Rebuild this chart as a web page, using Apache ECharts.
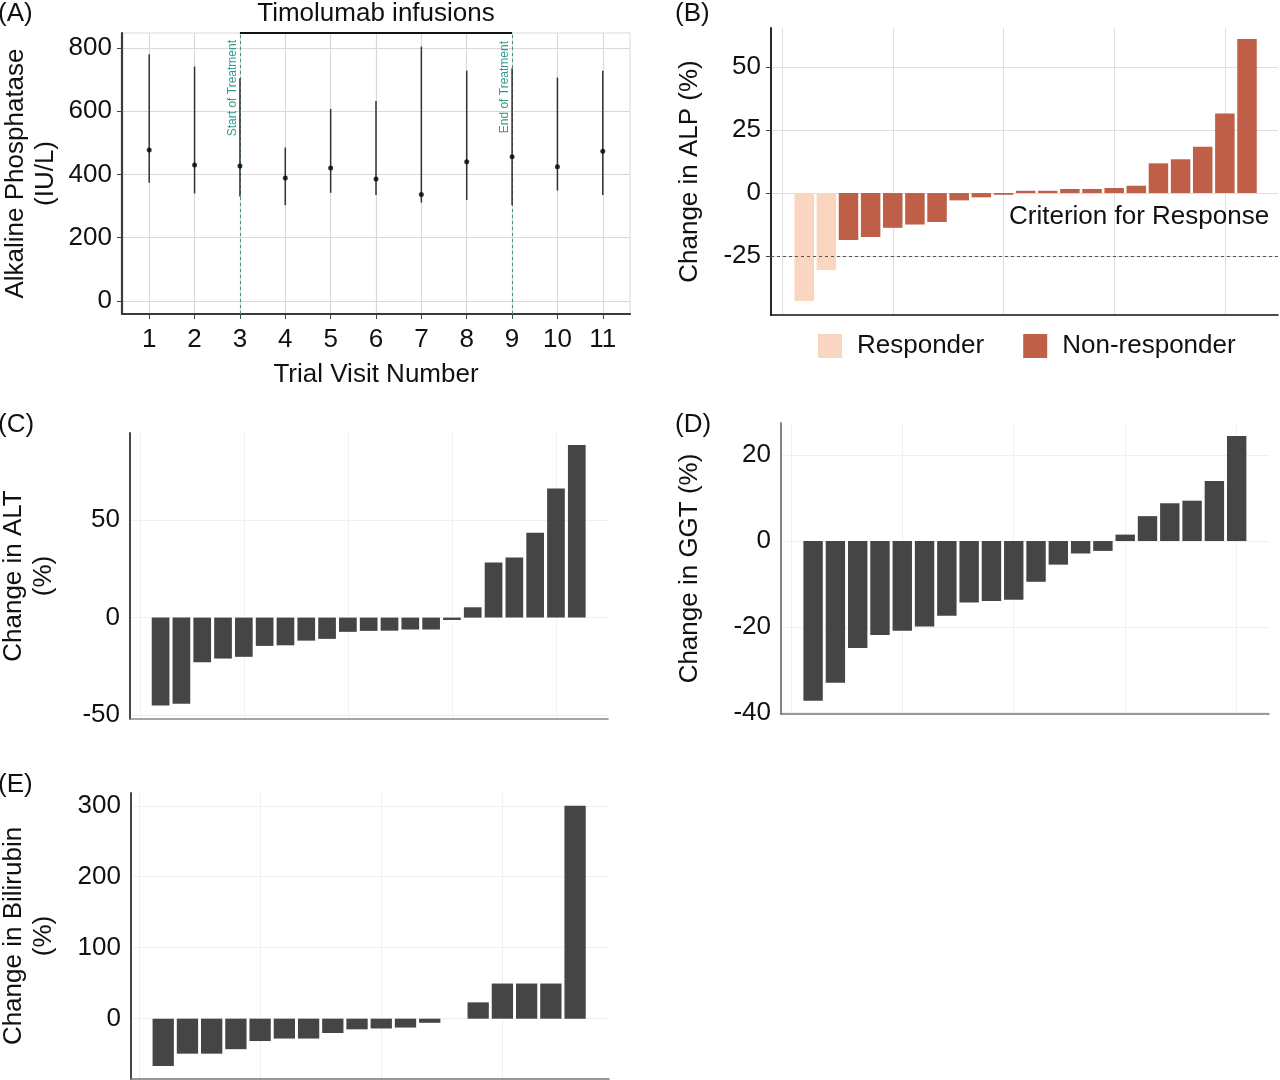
<!DOCTYPE html>
<html><head><meta charset="utf-8">
<script src="https://cdn.jsdelivr.net/npm/echarts@6/dist/echarts.min.js"></script>
<style>html,body{margin:0;padding:0;background:#fff}#c{width:1280px;height:1080px}</style>
</head><body><div id="c"></div>
<script>
// ---------- DATA ----------
// (A) ALP by trial visit
const visits = [1, 2, 3, 4, 5, 6, 7, 8, 9, 10, 11];
const alpMean = [477, 430, 427, 389, 420, 386, 337, 440, 456, 424, 473];
const alpLow  = [374, 340, 330, 303, 342, 335, 311, 319, 303, 349, 335];
const alpHigh = [780, 741, 704, 485, 607, 632, 804, 728, 736, 706, 728];
const alpTicks = [0, 200, 400, 600, 800];
const treatmentStart = 3;
const treatmentEnd = 9;

// (B) change in ALP per patient (sorted), first two are responders
const alpChange = [-42.8, -30.5, -18.6, -17.4, -13.8, -12.5, -11.5, -2.9, -1.7, -0.7,
                   0.9, 0.9, 1.6, 1.6, 2.0, 2.9, 11.8, 13.4, 18.4, 31.6, 61.1];
const nResponders = 2;
const alpChangeTicks = [-25, 0, 25, 50];
const responseCriterion = -25;

// (C) change in ALT
const altChange = [-45.1, -44.2, -22.9, -21.0, -20.1, -14.5, -14.2, -11.8, -10.9, -7.3,
                   -6.8, -6.7, -6.1, -6.1, -1.2, 5.3, 28.3, 30.9, 43.5, 66.2, 88.6];
const altTicks = [-50, 0, 50];

// (D) change in GGT
const ggtChange = [-37.2, -33.0, -24.9, -21.9, -20.9, -19.9, -17.4, -14.3, -14.0, -13.7,
                   -9.5, -5.5, -2.9, -2.3, 1.5, 5.8, 8.8, 9.4, 14.0, 24.5];
const ggtTicks = [-40, -20, 0, 20];

// (E) change in bilirubin
const biliChange = [-66.7, -49.3, -49.3, -43.0, -31.5, -28.0, -28.0, -20.2, -15.0, -13.8,
                    -12.5, -5.8, 0, 23.0, 49.5, 49.5, 49.5, 300];
const biliTicks = [0, 100, 200, 300];

const rankBreaks = [0, 5, 10, 15, 20];

// ---------- STYLE ----------
const FONT = "'Liberation Sans', Arial, sans-serif";
const TXT = '#111';
const FS = 26;
const teal = '#2f9c8a';
const darkBar = '#454545';
const respColor = '#fad5c0';
const nonRespColor = '#bf5f47';

const A_MIN = -41, A_MAX = 847;

function rankData(arr, offset) {
  return arr.map((v, i) => [i + 1 + (offset || 0), v]);
}

function barX(grid, min, max, axisColor, gridColor) {
  return {
    type: 'value', gridIndex: grid, min: min, max: max,
    axisLine: { show: true, onZero: false, lineStyle: { color: axisColor, width: 1.6 } },
    axisTick: { show: false, customValues: rankBreaks },
    axisLabel: { show: false, customValues: rankBreaks },
    splitLine: { show: true, customValues: rankBreaks, lineStyle: { color: gridColor, width: 1 } }
  };
}
function barY(grid, min, max, ticks, name, nameGap, axisColor, gridColor, tickShow) {
  return {
    type: 'value', gridIndex: grid, min: min, max: max,
    name: name, nameLocation: 'middle', nameGap: nameGap, nameRotate: 90,
    nameTextStyle: { fontSize: FS, color: TXT, fontFamily: FONT, lineHeight: 30, align: 'center' },
    axisLine: { show: true, onZero: false, lineStyle: { color: axisColor, width: 1.8 } },
    axisTick: { show: !!tickShow, length: 5, customValues: ticks, lineStyle: { color: '#444' } },
    axisLabel: { customValues: ticks, fontSize: FS, color: TXT, fontFamily: FONT, margin: 10 },
    splitLine: { show: true, customValues: ticks, lineStyle: { color: gridColor, width: 1 } }
  };
}

const option = {
  backgroundColor: '#fff',
  animation: false,
  textStyle: { fontFamily: FONT },
  title: [
    { text: '(A)', left: -2, top: 1 },
    { text: '(B)', left: 675, top: 1 },
    { text: '(C)', left: -2, top: 412 },
    { text: '(D)', left: 675, top: 412 },
    { text: '(E)', left: -2, top: 772 }
  ].map(t => Object.assign(t, { padding: 0, textStyle: { fontSize: FS, fontWeight: 'normal', color: TXT, fontFamily: FONT } })),
  legend: {
    left: 818, top: 333, padding: 0, itemWidth: 24, itemHeight: 24, itemGap: 39, icon: 'rect',
    selectedMode: false, data: ['Responder', 'Non-responder'],
    textStyle: { fontSize: FS, color: TXT, fontFamily: FONT, padding: [0, 0, 0, 10] }
  },
  grid: [
    { left: 122, top: 33, width: 508, height: 281, show: true, borderColor: '#d9d9d9', borderWidth: 1, backgroundColor: '#fff' },
    { left: 771, top: 28, width: 507, height: 287 },
    { left: 130, top: 433, width: 478, height: 286 },
    { left: 781, top: 423, width: 488, height: 291 },
    { left: 131, top: 793, width: 478, height: 286 }
  ].map(g => Object.assign(g, { containLabel: false, outerBoundsMode: 'none' })),
  xAxis: [
    {
      type: 'value', gridIndex: 0, min: 0.4, max: 11.6,
      name: 'Trial Visit Number', nameLocation: 'middle', nameGap: 48,
      nameTextStyle: { fontSize: FS, color: TXT, fontFamily: FONT },
      axisLine: { show: true, onZero: false, lineStyle: { color: '#3a3a3a', width: 2.2 } },
      axisTick: { show: true, length: 5, customValues: visits, lineStyle: { color: '#444' } },
      axisLabel: { customValues: visits, fontSize: FS, color: TXT, fontFamily: FONT, margin: 13 },
      splitLine: { show: true, customValues: visits, lineStyle: { color: '#d9d9d9', width: 1.2 } }
    },
    barX(1, -0.5, 22.4, '#111', '#dedede'),
    barX(2, -0.47, 22.5, '#888', '#f0f0f3'),
    barX(3, -0.44, 21.45, '#777', '#f0f0f3'),
    barX(4, -0.33, 19.4, '#777', '#f0f0f3')
  ],
  yAxis: [
    {
      type: 'value', gridIndex: 0, min: A_MIN, max: A_MAX,
      name: 'Alkaline Phosphatase\n(IU/L)', nameLocation: 'middle', nameGap: 61, nameRotate: 90,
      nameTextStyle: { fontSize: FS, color: TXT, fontFamily: FONT, lineHeight: 30, align: 'center' },
      axisLine: { show: true, onZero: false, lineStyle: { color: '#3a3a3a', width: 2.2 } },
      axisTick: { show: true, length: 5, customValues: alpTicks, lineStyle: { color: '#444' } },
      axisLabel: { customValues: alpTicks, fontSize: FS, color: TXT, fontFamily: FONT, margin: 10 },
      splitLine: { show: true, customValues: alpTicks, lineStyle: { color: '#d9d9d9', width: 1.2 } }
    },
    barY(1, -48.4, 65.5, alpChangeTicks, 'Change in ALP (%)', 66, '#111', '#dedede', true),
    barY(2, -52, 94.7, altTicks, 'Change in ALT\n(%)', 71, '#333', '#f0f0f3', false),
    barY(3, -40.3, 27.5, ggtTicks, 'Change in GGT (%)', 76, '#777', '#f0f0f3', false),
    barY(4, -85, 318, biliTicks, 'Change in Bilirubin\n(%)', 72, '#333', '#f0f0f3', false)
  ],
  series: [
    // (A) ranges
    {
      type: 'custom', xAxisIndex: 0, yAxisIndex: 0, z: 3,
      data: visits.map((v, i) => [v, alpLow[i], alpHigh[i]]),
      encode: { x: 0, y: [1, 2] },
      renderItem: function (params, api) {
        const x = api.value(0);
        const p1 = api.coord([x, api.value(1)]);
        const p2 = api.coord([x, api.value(2)]);
        return { type: 'line', shape: { x1: p1[0], y1: p1[1], x2: p2[0], y2: p2[1] },
                 style: { stroke: '#333', lineWidth: 1.5 } };
      }
    },
    // (A) means + annotations
    {
      type: 'scatter', xAxisIndex: 0, yAxisIndex: 0, z: 4,
      symbolSize: 5, itemStyle: { color: '#000' },
      data: visits.map((v, i) => [v, alpMean[i]]),
      markLine: {
        silent: true, z: 1, symbol: ['none', 'none'],
        lineStyle: { color: teal, type: [3, 3], width: 1 },
        label: { show: true, position: 'insideEndTop', fontSize: 12, color: teal, fontFamily: FONT, distance: 3 },
        data: [
          { xAxis: treatmentStart, label: { formatter: 'Start of Treatment', distance: [7, 1] } },
          { xAxis: treatmentEnd, label: { formatter: 'End of Treatment', distance: [8, 1] } },
          [
            { coord: [treatmentStart, A_MAX], lineStyle: { type: 'solid', color: '#111', width: 2 },
              label: { formatter: 'Timolumab infusions', position: 'insideMiddleTop', fontSize: FS, color: TXT, distance: 6 } },
            { coord: [treatmentEnd, A_MAX] }
          ]
        ]
      }
    },
    // (B)
    {
      name: 'Responder', type: 'bar', xAxisIndex: 1, yAxisIndex: 1, barWidth: 19.5,
      itemStyle: { color: respColor },
      data: rankData(alpChange.slice(0, nResponders))
    },
    {
      name: 'Non-responder', type: 'bar', xAxisIndex: 1, yAxisIndex: 1, barWidth: 19.5, barGap: '-100%',
      itemStyle: { color: nonRespColor },
      data: rankData(alpChange.slice(nResponders), nResponders),
      markLine: {
        silent: true, symbol: ['none', 'none'],
        lineStyle: { color: '#555', type: [3, 3], width: 1.2 },
        label: { show: false },
        data: [{ yAxis: responseCriterion }]
      },
      markPoint: {
        silent: true, symbol: 'circle', symbolSize: 0, itemStyle: { color: 'rgba(0,0,0,0)' },
        label: { show: true, position: 'left', distance: 0, formatter: 'Criterion for Response',
                 fontSize: FS, color: TXT, fontFamily: FONT },
        data: [{ coord: [22, -9.5] }]
      }
    },
    // (C)
    {
      type: 'bar', xAxisIndex: 2, yAxisIndex: 2, barWidth: 17.7,
      itemStyle: { color: darkBar },
      data: rankData(altChange)
    },
    // (D)
    {
      type: 'bar', xAxisIndex: 3, yAxisIndex: 3, barWidth: 19.4,
      itemStyle: { color: darkBar },
      data: rankData(ggtChange)
    },
    // (E)
    {
      type: 'bar', xAxisIndex: 4, yAxisIndex: 4, barWidth: 21.3,
      itemStyle: { color: darkBar },
      data: rankData(biliChange)
    }
  ]
};

const chart = echarts.init(document.getElementById('c'), null, { renderer: 'canvas' });
chart.setOption(option);
</script>
</body></html>
